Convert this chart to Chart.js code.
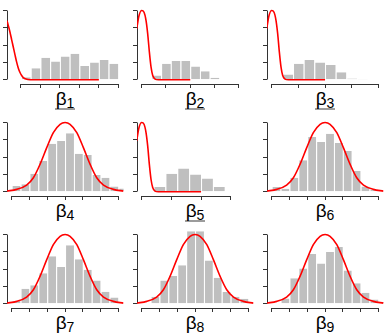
<!DOCTYPE html>
<html><head><meta charset="utf-8">
<script src="https://cdn.jsdelivr.net/npm/chart.js@4/dist/chart.umd.min.js"></script>
<style>
html,body{margin:0;padding:0;background:#fff}
body{width:390px;height:335px;position:relative;overflow:hidden;font-family:"Liberation Sans",Arial,sans-serif}
canvas{position:absolute}
.lbl{position:absolute;width:130px;text-align:center;font-size:19px;line-height:18px;color:#000}
.lbl span{display:inline-block;padding:0 1px}
.lbl sub{font-size:14px;vertical-align:-3px;line-height:0}
.lbl .u{border-bottom:2px solid #9c9c9c}
</style></head><body>
<script>
// ---- data (x in tick units, y in tick units) ----
const panelIds = ['1','2','3','4','5','6','7','8','9'];
const flagged  = [true,true,true,false,true,false,false,false,false];
const yTicks = [0,1,2,3,4];

const xTicks1 = [0,1,2,3,4,5];
const xTicks2 = [0,1,2,3,4];
const xTicks3 = [0,1,2,3,4];
const xTicks5 = [0,1,2,3];
const xTicksN = [0,1,2,3,4,5,6];

const binStart = [0,0.4,0.4,0,0.4,0,0,0,0];
const binWidth = [0.5,0.4,0.4,0.5,0.4,0.5,0.5,0.5,0.5];

const bins1 = [0.15,0.67,1.27,1.06,1.35,1.5,0.79,1.0,1.15,0.92];
const bins2 = [0.25,0.92,1.08,1.08,0.77,0.5,0.12,0.03];
const bins3 = [0.31,0.92,1.15,1.0,0.85,0.44,0.08,0.04];
const bins4 = [0.33,0.43,1.04,1.78,2.78,2.94,3.38,2.2,2.13,0.97,0.81,0.31,0.19];
const bins5 = [0.27,1.04,1.35,1.0,0.77,0.27,0.03];
const bins6 = [0.27,0.17,0.81,1.82,3.17,2.88,3.36,2.82,2.36,1.2,0.31,0.12];
const bins7 = [0.16,0.87,1.07,1.77,2.74,2.12,3.38,2.58,1.96,1.34,0.7,0.37];
const bins8 = [0,0.41,1.34,1.61,2.23,4.19,4.19,2.5,1.5,0.68,0.41,0.29];
const bins9 = [0,0.31,1.48,2.04,2.87,2.33,2.99,3.28,1.92,1.18,0.64,0.25,0.1];

const curveX1 = [-0.72,-0.651,-0.565,-0.479,-0.394,-0.308,-0.223,-0.137,-0.051,0.034,0.12,0.257,0.462,4];
const curveY1 = [3.42,3.13,2.75,2.31,1.88,1.44,1.02,0.67,0.42,0.25,0.13,0.04,0,0];
const curveX2 = [-0.206,-0.11,0,0.096,0.179,0.247,0.316,0.385,0.454,0.55,0.687,2];
const curveY2 = [2.94,3.71,4,3.9,3.42,2.65,1.6,0.73,0.25,0.04,0,0];
const curveX3 = [-0.1875,-0.1,0,0.0875,0.1625,0.225,0.2875,0.35,0.4125,0.5,0.625,2];
const curveY3 = [2.94,3.71,4,3.9,3.42,2.65,1.6,0.73,0.25,0.04,0,0];
const curveX5 = [-0.169,-0.09,0,0.079,0.146,0.202,0.258,0.315,0.371,0.449,0.562,2];
const curveY5 = [2.94,3.71,4,3.9,3.42,2.65,1.58,0.71,0.25,0.04,0,0];
const curveXN = [-0.28,0.28,0.84,1.22,1.59,1.97,2.34,2.72,3.0,3.28,3.66,4.03,4.41,4.78,5.16,5.72,6.28];
const curveYN = [0.04,0.14,0.39,0.81,1.58,2.55,3.42,3.9,4.0,3.9,3.42,2.55,1.58,0.81,0.39,0.14,0.04];

const xRange = [[-0.719,5.27],[-0.194,4.61],[-0.176,4.196],[-0.264,6.29],[-0.158,3.77],[-0.264,6.29],[-0.264,6.29],[-0.264,6.29],[-0.264,6.29]];
const yRange = [-0.243,4.61];

const panels = [
  {bins:bins1, cx:curveX1, cy:curveY1, xt:xTicks1},
  {bins:bins2, cx:curveX2, cy:curveY2, xt:xTicks2},
  {bins:bins3, cx:curveX3, cy:curveY3, xt:xTicks3},
  {bins:bins4, cx:curveXN, cy:curveYN, xt:xTicksN},
  {bins:bins5, cx:curveX5, cy:curveY5, xt:xTicks5},
  {bins:bins6, cx:curveXN, cy:curveYN, xt:xTicksN},
  {bins:bins7, cx:curveXN, cy:curveYN, xt:xTicksN},
  {bins:bins8, cx:curveXN, cy:curveYN, xt:xTicksN},
  {bins:bins9, cx:curveXN, cy:curveYN, xt:xTicksN}
];

// ---- drawing ----
const AXIS_COLOR = '#333';
function alignPx(p){ return Math.round(p - 0.5) + 0.5; }

const axisLines = {
  id:'axisLines',
  beforeDatasetsDraw(chart){
    const {ctx, chartArea, scales:{x, y}} = chart;
    const xt = x.ticks, yt = y.ticks;
    ctx.save();
    ctx.strokeStyle = AXIS_COLOR; ctx.lineWidth = 1;
    ctx.beginPath();
    const by = alignPx(chartArea.bottom);
    ctx.moveTo(alignPx(x.getPixelForValue(xt[0].value)), by);
    ctx.lineTo(alignPx(x.getPixelForValue(xt[xt.length-1].value)), by);
    const lx = alignPx(chartArea.left);
    ctx.moveTo(lx, alignPx(y.getPixelForValue(yt[0].value)));
    ctx.lineTo(lx, alignPx(y.getPixelForValue(yt[yt.length-1].value)));
    ctx.stroke();
    ctx.restore();
  }
};

panels.forEach((p, i) => {
  const col = i % 3, row = Math.floor(i / 3);
  const cv = document.createElement('canvas');
  cv.width = 130; cv.height = 88;
  cv.style.left = (col*130)+'px'; cv.style.top = (row*112)+'px';
  document.body.appendChild(cv);

  const lab = document.createElement('div');
  lab.className = 'lbl';
  lab.style.left = (col*130)+'px'; lab.style.top = (row*112+90)+'px';
  lab.innerHTML = '<span class="'+(flagged[i]?'u':'')+'">\u03B2<sub>'+panelIds[i]+'</sub></span>';
  document.body.appendChild(lab);

  const barData = p.bins.map((v,k) => ({x: binStart[i] + binWidth[i]*(k+0.5), y: v}));
  const curveData = p.cx.map((v,k) => ({x: v, y: p.cy[k]}));
  const xt = p.xt;

  new Chart(cv, {
    type:'bar',
    data:{datasets:[
      {type:'line', data:curveData, borderColor:'#ff0000', borderWidth:1.6, pointRadius:0, fill:false, cubicInterpolationMode:'monotone'},
      {type:'bar', data:barData, backgroundColor:'#bfbfbf', borderColor:'#ffffff',
       borderWidth:{left:1,right:0,top:0,bottom:0}, borderSkipped:false, barPercentage:1, categoryPercentage:1, inflateAmount:0}
    ]},
    options:{
      responsive:false, animation:false, devicePixelRatio:1, events:[],
      layout:{padding:{left:3, right:6.4, top:0, bottom:0}},
      plugins:{legend:{display:false}, tooltip:{enabled:false}, title:{display:false}},
      scales:{
        x:{type:'linear', min:xRange[i][0], max:xRange[i][1], offset:false,
           afterBuildTicks:s => { s.ticks = xt.map(v => ({value:v})); },
           ticks:{display:false},
           grid:{display:true, drawOnChartArea:false, drawTicks:true, tickLength:4, color:AXIS_COLOR, offset:false},
           border:{display:false}},
        y:{type:'linear', min:yRange[0], max:yRange[1],
           afterBuildTicks:s => { s.ticks = yTicks.map(v => ({value:v})); },
           ticks:{display:false},
           grid:{display:true, drawOnChartArea:false, drawTicks:true, tickLength:4, color:AXIS_COLOR},
           border:{display:false}}
      }
    },
    plugins:[axisLines]
  });
});
</script>
</body></html>
